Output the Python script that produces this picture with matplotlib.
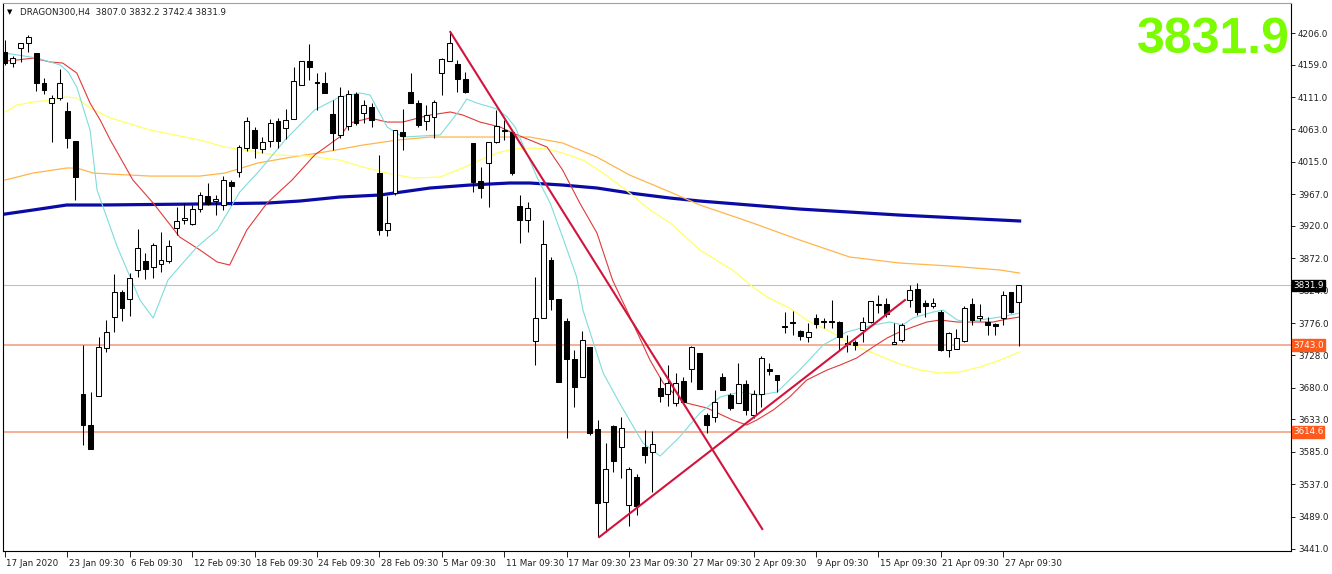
import numpy as np
import matplotlib.pyplot as plt
import matplotlib.transforms as mtransforms

# H4 candles, DRAGON300 (bar index = position in list)
opens = [4177.8, 4161.5, 4183.7, 4191.2, 4176.3, 4131.8, 4102.2, 4109.6, 4090.3, 4045.8,
         3670.8, 3624.8, 3667.8, 3738.9, 3784.9, 3822.0, 3811.6, 3854.6, 3867.9, 3859.0,
         3863.5, 3867.9, 3916.9, 3928.7, 3922.8, 3945.0, 3964.3, 3956.9, 3951.0, 3985.0,
         3999.9, 4035.5, 4062.2, 4034.0, 4045.8, 4075.5, 4065.1, 4078.5, 4128.9, 4164.5,
         4133.3, 4131.8, 4085.9, 4054.8, 4068.1, 4115.5, 4087.4, 4096.2, 3998.4, 3913.9,
         3968.8, 4059.2, 4118.5, 4102.2, 4075.5, 4081.4, 4146.7, 4164.5, 4160.0, 4137.8,
         4042.9, 3986.5, 4013.2, 4044.4, 4060.7, 4059.2, 3949.5, 3928.7, 3749.3, 3783.4,
         3869.4, 3811.6, 3779.0, 3722.6, 3696.0, 3740.4, 3618.9, 3510.6, 3623.3, 3592.2,
         3506.2, 3547.7, 3592.2, 3584.8, 3679.6, 3670.8, 3657.4, 3690.0, 3707.8, 3731.5,
         3639.6, 3636.7, 3696.0, 3669.3, 3657.4, 3685.6, 3639.6, 3670.8, 3707.8, 3698.9,
         3771.0, 3777.5, 3764.1, 3755.3, 3783.4, 3777.5, 3779.0, 3777.5, 3746.4, 3747.8,
         3765.6, 3777.5, 3802.7, 3804.2, 3744.9, 3750.8, 3810.1, 3826.4, 3805.7, 3801.2,
         3792.3, 3736.0, 3737.5, 3749.3, 3804.2, 3783.4, 3777.5, 3774.5, 3783.4, 3822.0,
         3807.0]
highs = [4195.6, 4171.9, 4191.2, 4203.0, 4176.3, 4139.3, 4114.1, 4152.6, 4103.7, 4045.8,
         3743.4, 3673.7, 3755.3, 3780.5, 3848.7, 3824.9, 3850.1, 3915.4, 3879.8, 3894.6,
         3910.9, 3899.1, 3948.0, 3953.9, 3951.0, 3970.2, 3983.6, 3965.8, 3993.9, 3988.0,
         4039.9, 4081.4, 4066.6, 4051.8, 4078.5, 4080.0, 4093.3, 4155.6, 4164.5, 4189.7,
         4146.7, 4148.2, 4106.6, 4125.9, 4121.5, 4118.5, 4106.6, 4102.2, 4025.1, 3964.3,
         4062.2, 4093.3, 4146.7, 4106.6, 4099.2, 4106.6, 4168.9, 4207.5, 4165.9, 4148.2,
         4042.9, 4007.3, 4044.4, 4091.8, 4077.0, 4062.2, 3965.8, 3955.4, 3844.2, 3928.7,
         3873.9, 3811.6, 3783.4, 3736.0, 3764.1, 3740.4, 3632.2, 3598.1, 3624.8, 3636.7,
         3562.5, 3552.1, 3617.4, 3615.9, 3696.0, 3713.8, 3701.9, 3696.0, 3741.9, 3731.5,
         3642.6, 3676.7, 3701.9, 3672.2, 3716.7, 3691.5, 3676.7, 3727.1, 3716.7, 3698.9,
         3792.3, 3793.8, 3765.6, 3776.0, 3789.4, 3783.4, 3810.1, 3779.0, 3758.2, 3750.8,
         3784.9, 3808.6, 3817.5, 3813.1, 3776.0, 3776.0, 3832.4, 3835.3, 3810.1, 3813.1,
         3795.3, 3762.7, 3767.1, 3801.2, 3813.1, 3804.2, 3784.9, 3776.0, 3823.5, 3822.0,
         3832.2]
lows = [4158.5, 4155.6, 4163.0, 4177.8, 4120.0, 4115.5, 4044.4, 4106.6, 4035.5, 3958.4,
        3595.1, 3589.2, 3667.8, 3733.0, 3762.7, 3779.0, 3786.4, 3844.2, 3841.3, 3842.7,
        3851.6, 3865.0, 3906.5, 3922.8, 3921.3, 3940.6, 3951.0, 3936.1, 3943.6, 3951.0,
        3992.5, 4031.0, 4020.6, 4028.1, 4036.9, 4035.5, 4048.8, 4078.5, 4128.9, 4136.3,
        4091.8, 4117.0, 4032.5, 4050.3, 4062.2, 4069.6, 4072.5, 4066.6, 3906.5, 3905.0,
        3965.8, 4032.5, 4102.2, 4066.6, 4062.2, 4050.3, 4114.1, 4164.5, 4118.5, 4117.0,
        3970.2, 3961.3, 3948.0, 4042.9, 4047.3, 3995.4, 3894.6, 3910.9, 3713.8, 3783.4,
        3795.3, 3688.6, 3605.5, 3651.5, 3696.0, 3610.0, 3458.7, 3466.2, 3555.1, 3546.2,
        3475.0, 3491.4, 3568.5, 3525.5, 3658.9, 3653.0, 3653.0, 3657.4, 3688.6, 3678.2,
        3612.9, 3629.3, 3676.7, 3647.0, 3657.4, 3639.6, 3635.2, 3651.5, 3698.9, 3673.7,
        3761.2, 3758.2, 3750.8, 3747.8, 3768.6, 3768.6, 3768.6, 3736.0, 3733.0, 3736.0,
        3747.8, 3776.0, 3790.8, 3784.9, 3744.9, 3747.8, 3799.7, 3787.9, 3784.9, 3798.3,
        3734.5, 3725.6, 3737.5, 3747.8, 3773.1, 3779.0, 3758.2, 3758.2, 3773.1, 3790.8,
        3742.4]
closes = [4161.5, 4168.9, 4191.2, 4200.0, 4131.8, 4121.5, 4109.6, 4131.8, 4050.3, 3992.5,
          3624.8, 3589.2, 3740.4, 3762.7, 3822.0, 3798.3, 3842.7, 3887.2, 3856.1, 3891.7,
          3869.4, 3890.2, 3927.3, 3931.7, 3945.0, 3965.8, 3952.5, 3959.9, 3988.0, 3979.1,
          4036.9, 4075.5, 4035.5, 4044.4, 4072.5, 4045.8, 4077.0, 4134.8, 4164.5, 4155.6,
          4131.8, 4117.0, 4057.7, 4112.6, 4115.5, 4072.5, 4099.2, 4077.0, 3913.9, 3924.3,
          4062.2, 4053.3, 4102.2, 4069.6, 4084.4, 4103.7, 4167.4, 4191.2, 4137.8, 4118.5,
          3985.0, 3976.2, 4044.4, 4068.1, 4062.2, 3998.4, 3928.7, 3946.5, 3783.4, 3893.1,
          3811.6, 3688.6, 3722.6, 3681.1, 3750.8, 3612.9, 3509.2, 3559.6, 3571.4, 3620.3,
          3559.6, 3504.7, 3580.3, 3596.6, 3667.8, 3687.1, 3687.1, 3658.9, 3740.4, 3678.2,
          3624.8, 3658.9, 3676.7, 3650.0, 3685.6, 3647.0, 3670.8, 3724.1, 3704.9, 3691.5,
          3770.1, 3776.0, 3756.7, 3762.7, 3774.5, 3779.0, 3777.5, 3755.3, 3744.9, 3743.4,
          3777.5, 3808.6, 3804.2, 3789.4, 3747.8, 3773.1, 3824.9, 3792.3, 3801.2, 3805.7,
          3736.0, 3761.2, 3753.8, 3798.3, 3780.5, 3786.4, 3773.1, 3771.6, 3817.5, 3792.3,
          3831.9]

# moving averages (bar index, price)
ma_cyan_x = [0.0, 4.1, 7.1, 8.1, 9.2, 10.9, 11.8, 14.4, 17.3, 19.0, 20.9, 24.6, 27.2, 30.1,
             32.7, 35.9, 37.8, 39.7, 42.9, 45.5, 46.8, 49.0, 51.0, 55.8, 58.3, 59.2, 60.5,
             63.1, 64.4, 65.4, 66.9, 68.2, 69.9, 71.5, 73.3, 74.1, 76.7, 78.8, 81.8, 84.0,
             86.5, 89.1, 91.7, 94.2, 96.8, 99.0, 101.9, 104.9, 107.9, 111.3, 113.5, 115.1,
             116.4, 119.0, 120.3, 122.1, 123.3, 125.0, 127.6, 130.1]
ma_cyan_y = [4176.3, 4168.9, 4158.5, 4148.2, 4125.9, 4062.2, 3973.2, 3888.7, 3810.1, 3783.4,
             3839.8, 3888.7, 3913.9, 3970.2, 4002.9, 4047.3, 4069.6, 4091.8, 4111.1, 4117.0,
             4114.1, 4066.6, 4051.8, 4054.8, 4091.8, 4108.1, 4102.2, 4093.3, 4081.4, 4066.6,
             4028.1, 3992.5, 3953.9, 3903.5, 3844.2, 3795.3, 3701.9, 3657.4, 3598.1, 3578.8,
             3607.0, 3642.6, 3666.3, 3673.7, 3669.3, 3673.7, 3706.3, 3743.4, 3762.7, 3773.1,
             3777.5, 3773.1, 3783.4, 3792.3, 3795.3, 3780.5, 3777.5, 3780.5, 3784.9, 3790.8]

ma_red_x = [0.0, 1.5, 3.6, 5.8, 7.4, 9.2, 10.9, 12.2, 13.5, 16.4, 19.0, 22.4, 25.0, 27.2,
            28.8, 31.0, 33.6, 36.8, 39.7, 42.9, 44.2, 46.8, 49.0, 51.0, 54.5, 57.1, 58.7,
            60.9, 63.5, 65.1, 67.3, 69.5, 71.5, 73.7, 75.9, 77.9, 80.5, 82.7, 84.4, 86.2,
            87.4, 90.0, 93.3, 95.1, 96.4, 98.5, 100.6, 102.8, 105.4, 107.1, 109.2, 111.3,
            113.1, 114.7, 116.4, 118.2, 119.9, 122.1, 126.7, 128.5, 130.1]
ma_red_y = [4164.5, 4165.9, 4168.9, 4163.0, 4161.5, 4146.7, 4102.2, 4077.0, 4047.3, 3988.0,
            3953.9, 3903.5, 3884.3, 3866.5, 3862.0, 3913.9, 3953.9, 3988.0, 4025.1, 4051.8,
            4072.5, 4080.0, 4074.0, 4074.0, 4084.4, 4088.9, 4084.4, 4074.0, 4066.6, 4057.7,
            4047.3, 4036.9, 4002.9, 3953.9, 3909.5, 3839.8, 3776.0, 3721.2, 3687.1, 3666.3,
            3657.4, 3650.0, 3632.2, 3624.8, 3632.2, 3647.0, 3666.3, 3691.5, 3706.3, 3713.8,
            3724.1, 3740.4, 3753.8, 3762.7, 3770.1, 3777.5, 3780.5, 3777.5, 3777.5, 3782.0,
            3784.9]

ma_yellow_x = [0.0, 1.5, 3.6, 5.8, 7.9, 9.2, 10.9, 13.5, 18.6, 25.0, 28.2, 30.8, 34.6, 38.8,
               42.9, 45.9, 49.0, 52.3, 55.8, 58.7, 60.9, 63.1, 65.1, 67.3, 69.5, 71.5, 74.1,
               76.7, 80.1, 82.7, 85.3, 89.1, 93.3, 95.9, 97.7, 100.6, 102.8, 106.2, 108.7,
               111.3, 114.4, 117.3, 119.9, 122.4, 125.0, 127.6, 130.1]
ma_yellow_y = [4088.9, 4099.2, 4103.7, 4106.6, 4111.1, 4109.6, 4094.8, 4080.0, 4062.2, 4047.3,
               4036.9, 4032.5, 4025.1, 4023.6, 4017.7, 4007.3, 3998.4, 3991.0, 3992.5, 4005.8,
               4017.7, 4028.1, 4034.0, 4035.5, 4034.0, 4028.1, 4017.7, 3998.4, 3968.8, 3943.6,
               3924.3, 3884.3, 3854.6, 3829.4, 3814.6, 3798.3, 3780.5, 3761.2, 3743.4, 3731.5,
               3716.7, 3706.3, 3701.9, 3703.4, 3710.8, 3721.2, 3733.0]

ma_orange_x = [0.0, 3.6, 7.9, 9.2, 11.3, 13.5, 18.6, 25.0, 28.2, 32.4, 36.8, 41.0, 45.9,
               50.3, 54.5, 67.3, 71.5, 75.9, 80.1, 85.3, 89.1, 95.5, 101.9, 108.3, 114.7,
               121.2, 127.6, 130.1]
ma_orange_y = [3988.0, 3998.4, 4005.8, 4005.8, 3998.4, 3996.9, 3993.9, 3993.9, 3998.4, 4013.2,
               4022.1, 4029.6, 4039.9, 4047.3, 4051.8, 4051.8, 4042.9, 4022.1, 3995.4, 3970.2,
               3951.0, 3925.8, 3899.1, 3873.9, 3865.0, 3860.5, 3854.6, 3850.1]

ma_blue_x = [0.0, 3.6, 7.9, 12.2, 25.0, 33.6, 37.8, 42.9, 48.1, 54.5, 59.6, 64.7, 67.3,
             71.5, 75.9, 80.1, 85.3, 89.1, 101.9, 114.7, 130.1]
ma_blue_y = [3937.6, 3943.6, 3951.0, 3951.0, 3952.5, 3953.9, 3956.9, 3962.8, 3965.8, 3976.2,
             3980.6, 3983.6, 3983.6, 3980.6, 3976.2, 3968.8, 3961.3, 3956.9, 3945.0, 3936.1,
             3927.3]

# drawn trend lines: (bar, price) end points
trend_down = [(57.1, 4207.5), (97.1, 3470.6)]
trend_up = [(76.2, 3458.7), (115.4, 3810.1)]

# horizontal levels
level_lines = [3743.0, 3614.6]
last_price = 3831.9

y_ticks = [4206.0, 4159.0, 4111.0, 4063.0, 4015.0, 3967.0, 3920.0, 3872.0, 3824.0, 3776.0,
           3728.0, 3680.0, 3633.0, 3585.0, 3537.0, 3489.0, 3441.0]
x_tick_labels = ['17 Jan 2020', '23 Jan 09:30', '6 Feb 09:30', '12 Feb 09:30', '18 Feb 09:30',
                 '24 Feb 09:30', '28 Feb 09:30', '5 Mar 09:30', '11 Mar 09:30', '17 Mar 09:30',
                 '23 Mar 09:30', '27 Mar 09:30', '2 Apr 09:30', '9 Apr 09:30', '15 Apr 09:30',
                 '21 Apr 09:30', '27 Apr 09:30']

plt.rcParams['font.family'] = 'DejaVu Sans'

fig = plt.figure(figsize=(13.32, 5.74), dpi=100)
ax = fig.add_axes([3 / 1332, 1 - 551 / 574, 1288 / 1332, 548 / 574])

# moving averages
ax.plot(ma_blue_x, ma_blue_y, color='#0a0aa5', lw=2.3, zorder=2)
ax.plot(ma_orange_x, ma_orange_y, color='#ffb54a', lw=0.9, zorder=2)
ax.plot(ma_yellow_x, ma_yellow_y, color='#ffff66', lw=0.9, zorder=2)
ax.plot(ma_red_x, ma_red_y, color='#e03a3a', lw=0.8, zorder=2)
ax.plot(ma_cyan_x, ma_cyan_y, color='#7fdcdc', lw=0.8, zorder=2)

# levels
ax.axhline(last_price, color='#c0c0c0', lw=0.8, zorder=1)
for lv in level_lines:
    ax.axhline(lv, color='#f29a78', lw=1.1, zorder=1)

# candles
o = np.array(opens)
c = np.array(closes)
h = np.array(highs)
l = np.array(lows)
idx = np.arange(len(o))
ax.vlines(idx, l, h, color='black', lw=0.75, zorder=3)
up = c >= o
body_h = np.maximum(np.abs(c - o), 0.6)
ax.bar(idx[up], body_h[up], bottom=np.minimum(o, c)[up], width=0.62,
       color='white', edgecolor='black', linewidth=0.75, zorder=4)
ax.bar(idx[~up], body_h[~up], bottom=np.minimum(o, c)[~up], width=0.62,
       color='black', edgecolor='black', linewidth=0.75, zorder=4)

# trend lines
for tl in (trend_down, trend_up):
    ax.plot([tl[0][0], tl[1][0]], [tl[0][1], tl[1][1]], color='#d2143c', lw=1.5, zorder=5)

ax.set_xlim(-0.26, 164.9)
ax.set_ylim(3438.0, 4250.5)

# price axis on the right
ax.yaxis.tick_right()
ax.set_yticks(y_ticks)
ax.set_yticklabels(['%.1f' % v for v in y_ticks])
ax.tick_params(axis='y', direction='out', length=3, width=0.7, labelsize=6.3, pad=2,
               colors='#202020')

# time axis
ax.set_xticks(np.arange(0, 8 * len(x_tick_labels), 8))
ax.set_xticklabels(x_tick_labels)
ax.tick_params(axis='x', direction='out', length=4, width=0.7, labelsize=6.3, pad=2,
               colors='#202020')
shift = mtransforms.ScaledTranslation(1 / 72, 0, fig.dpi_scale_trans)
for lab in ax.get_xticklabels():
    lab.set_ha('left')
    lab.set_transform(lab.get_transform() + shift)

for sp in ax.spines.values():
    sp.set_color('black')
    sp.set_linewidth(0.8)
ax.spines['top'].set_color('#a0a0a0')

# price boxes on the axis
trans = mtransforms.blended_transform_factory(ax.transAxes, ax.transData)
ax.text(1.0015, last_price, '%.1f' % last_price, transform=trans, fontsize=6.3, color='white',
        va='center', ha='left', zorder=10,
        bbox=dict(boxstyle='square,pad=0.15', fc='black', ec='black'))
for lv in level_lines:
    ax.text(1.0015, lv, '%.1f' % lv, transform=trans, fontsize=6.3, color='white',
            va='center', ha='left', zorder=10,
            bbox=dict(boxstyle='square,pad=0.15', fc='#ff5a1e', ec='#ff5a1e'))

# header and big price
fig.text(7 / 1332, 1 - 12 / 574, '\u25BC', fontsize=5, va='center', ha='left', color='black')
fig.text(20 / 1332, 1 - 12 / 574, 'DRAGON300,H4  %.1f %.1f %.1f %.1f'
         % (opens[-1], highs[-1], lows[-1], closes[-1]),
         fontsize=6.3, va='center', ha='left', color='#202020')
fig.text(1290 / 1332, 1 - 53 / 574, '%.1f' % last_price, family='Liberation Sans',
         weight='bold', fontsize=36, color='#7cfc00', ha='right', va='baseline')

fig.savefig('out.png', dpi=100, facecolor='white')
